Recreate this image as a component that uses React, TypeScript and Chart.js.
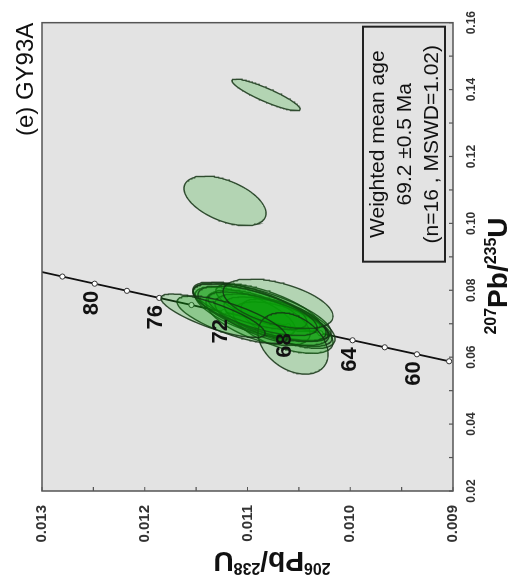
import React, { useEffect, useRef } from 'react';
import { Chart, registerables } from 'chart.js';

Chart.register(...registerables);

// decay constants (per year)
const LAMBDA238 = 1.55125e-10;
const LAMBDA235 = 9.8485e-10;

// concordia ages (Ma)
const curveAges = [57.9, 58, 60, 62, 64, 66, 68, 70, 72, 74, 76, 78, 80, 82, 84];
const markerAges = [58, 60, 62, 64, 66, 68, 70, 72, 74, 76, 78, 80, 82];
const labelAges = [60, 64, 68, 72, 76, 80];

// axis ranges
const xMin = 0.02;
const xMax = 0.16;
const xStep = 0.01;
const yMin = 0.009;
const yMax = 0.013;
const yStep = 0.0005;

// error ellipses: centre 207Pb/235U, centre 206Pb/238U, half-extent in each, correlation
const ellPb207U235 = [0.13839, 0.10672, 0.07239, 0.07121, 0.0641, 0.07594, 0.07417, 0.07298, 0.0721, 0.07535, 0.07121, 0.07358, 0.07062, 0.0718, 0.07002, 0.07476, 0.06884, 0.07358];
const ellPb206U238 = [0.01082, 0.011219, 0.011336, 0.011151, 0.010557, 0.010703, 0.010927, 0.010859, 0.010801, 0.010976, 0.010762, 0.010859, 0.010703, 0.010898, 0.010606, 0.010801, 0.010655, 0.011024];
const ellErr207 = [0.00474, 0.0074, 0.00651, 0.0071, 0.00918, 0.0074, 0.0077, 0.0083, 0.0074, 0.0071, 0.0077, 0.0086, 0.0074, 0.0083, 0.0074, 0.0071, 0.0077, 0.0074];
const ellErr206 = [0.000331, 0.000399, 0.000506, 0.000535, 0.000341, 0.000535, 0.000604, 0.000623, 0.000584, 0.000555, 0.000555, 0.000672, 0.000526, 0.000507, 0.000458, 0.000507, 0.000487, 0.000487];
const ellRho = [0.89, 0.5, 0.8, 0.75, 0.35, 0.5, 0.7, 0.68, 0.72, 0.68, 0.62, 0.7, 0.66, 0.58, 0.62, 0.72, 0.58, 0.68];

// texts
const sampleTitle = '(e) GY93A';
const boxLines = ['Weighted mean age', '69.2 \u00B10.5 Ma', '(n=16 , MSWD=1.02)'];

const FONT = '"Liberation Sans", Arial, Helvetica, sans-serif';

const r206 = (a: number) => Math.exp(LAMBDA238 * a * 1e6) - 1;
const r207 = (a: number) => Math.exp(LAMBDA235 * a * 1e6) - 1;

function ellipsePts(cx: number, cy: number, sx: number, sy: number, rho: number) {
  const pts: { x: number; y: number }[] = [];
  const k = Math.sqrt(1 - rho * rho);
  const n = 120;
  for (let i = 0; i <= n; i++) {
    const t = (i / n) * 2 * Math.PI;
    pts.push({ x: cx + sx * Math.cos(t), y: cy + sy * (rho * Math.cos(t) + k * Math.sin(t)) });
  }
  return pts;
}

type Part = { t: string; sup?: boolean };
function drawSupText(ctx: CanvasRenderingContext2D, parts: Part[], cx: number, baseY: number, big: string, small: string, rise: number) {
  let total = 0;
  const widths = parts.map((p) => {
    ctx.font = p.sup ? small : big;
    const w = ctx.measureText(p.t).width;
    total += w;
    return w;
  });
  let x = cx - total / 2;
  ctx.textAlign = 'left';
  ctx.textBaseline = 'alphabetic';
  parts.forEach((p, i) => {
    ctx.font = p.sup ? small : big;
    ctx.fillText(p.t, x, p.sup ? baseY - rise : baseY);
    x += widths[i];
  });
}

const decoPlugin = {
  id: 'deco',
  beforeDraw(chart: any) {
    const { ctx, chartArea: ca } = chart;
    ctx.save();
    ctx.fillStyle = '#fff';
    ctx.fillRect(0, 0, chart.width, chart.height);
    ctx.fillStyle = '#e3e3e3';
    ctx.fillRect(ca.left, ca.top, ca.right - ca.left, ca.bottom - ca.top);
    ctx.restore();
  },
  afterDraw(chart: any) {
    const { ctx, chartArea: ca } = chart;
    const xs = chart.scales.x;
    const ys = chart.scales.y;
    ctx.save();
    // frame
    ctx.strokeStyle = '#555';
    ctx.lineWidth = 1.5;
    ctx.strokeRect(ca.left, ca.top, ca.right - ca.left, ca.bottom - ca.top);
    // inner ticks
    ctx.lineWidth = 1.2;
    ctx.beginPath();
    xs.ticks.forEach((t: any) => {
      const p = xs.getPixelForValue(t.value);
      ctx.moveTo(p, ca.bottom);
      ctx.lineTo(p, ca.bottom - 4);
    });
    ys.ticks.forEach((t: any) => {
      const p = ys.getPixelForValue(t.value);
      ctx.moveTo(ca.left, p);
      ctx.lineTo(ca.left + 4, p);
    });
    ctx.stroke();

    // age labels
    ctx.fillStyle = '#111';
    ctx.font = `bold 22px ${FONT}`;
    ctx.textAlign = 'right';
    ctx.textBaseline = 'middle';
    labelAges.forEach((a) => {
      const px = xs.getPixelForValue(r207(a));
      const py = ys.getPixelForValue(r206(a));
      ctx.fillText(String(a), px - 7, py - 3);
    });

    // sample title
    ctx.font = `24px ${FONT}`;
    ctx.textAlign = 'right';
    ctx.textBaseline = 'middle';
    ctx.fillText(sampleTitle, ca.right, 26);

    // box
    const bw = 235;
    const bh = 82;
    const bx = ca.right - 4 - bw;
    const by = ca.bottom - 8 - bh;
    ctx.strokeStyle = '#222';
    ctx.lineWidth = 2;
    ctx.strokeRect(bx, by, bw, bh);
    ctx.font = `21px ${FONT}`;
    ctx.textAlign = 'center';
    ctx.textBaseline = 'middle';
    boxLines.forEach((s, i) => {
      ctx.fillText(s, bx + bw / 2, by + 15 + i * 27);
    });

    // axis titles
    const big = `bold 28px ${FONT}`;
    const small = `bold 16px ${FONT}`;
    ctx.fillStyle = '#111';
    drawSupText(ctx, [{ t: '207', sup: true }, { t: 'Pb' }, { t: '/' }, { t: '235', sup: true }, { t: 'U' }], 310, 507, big, small, 11);
    ctx.save();
    ctx.translate(24, 272);
    ctx.rotate(-Math.PI / 2);
    drawSupText(ctx, [{ t: '206', sup: true }, { t: 'Pb' }, { t: '/' }, { t: '238', sup: true }, { t: 'U' }], 0, 10, big, small, 11);
    ctx.restore();
    ctx.restore();
  },
};

export default function App() {
  const ref = useRef<HTMLCanvasElement | null>(null);
  useEffect(() => {
    if (!ref.current) return;
    const ellipseSets = ellPb207U235.map((cx, i) => ({
      type: 'line' as const,
      data: ellipsePts(cx, ellPb206U238[i], ellErr207[i], ellErr206[i], ellRho[i]),
      borderColor: 'rgba(20,50,20,0.85)',
      borderWidth: 1.4,
      backgroundColor: 'rgba(10,160,10,0.22)',
      fill: 'shape',
      pointRadius: 0,
      tension: 0,
    }));
    const chart = new Chart(ref.current, {
      type: 'line',
      data: {
        datasets: [
          ...ellipseSets,
          {
            data: markerAges.map((a) => ({ x: r207(a), y: r206(a) })),
            showLine: false,
            pointRadius: 2.6,
            pointBackgroundColor: '#fff',
            pointBorderColor: '#333',
            pointBorderWidth: 1,
          },
          {
            data: curveAges.map((a) => ({ x: r207(a), y: r206(a) })),
            borderColor: '#111',
            borderWidth: 1.8,
            pointRadius: 0,
            fill: false,
            tension: 0,
          },
        ] as any,
      },
      options: {
        animation: false,
        responsive: false,
        devicePixelRatio: 1,
        events: [],
        layout: { padding: { left: 0, right: 18, top: 42, bottom: 0 } },
        plugins: { legend: { display: false }, tooltip: { enabled: false } },
        scales: {
          x: {
            type: 'linear',
            min: xMin,
            max: xMax,
            grid: { display: false, drawTicks: false },
            border: { display: false },
            afterFit: (s: any) => {
              s.height = 62;
            },
            ticks: {
              stepSize: xStep,
              autoSkip: false,
              maxRotation: 0,
              padding: 11,
              color: '#333',
              font: { family: FONT, size: 12, weight: 'bold' },
              callback: (v: any) => (Math.round(Number(v) * 100) % 2 === 0 ? Number(v).toFixed(2) : ''),
            },
          },
          y: {
            type: 'linear',
            min: yMin,
            max: yMax,
            grid: { display: false, drawTicks: false },
            border: { display: false },
            afterFit: (s: any) => {
              s.width = 95;
            },
            ticks: {
              stepSize: yStep,
              autoSkip: false,
              padding: 14,
              color: '#333',
              font: { family: FONT, size: 15, weight: 'bold' },
              callback: (v: any) => (Math.round(Number(v) * 2000) % 2 === 0 ? Number(v).toFixed(3) : ''),
            },
          },
        },
      } as any,
      plugins: [decoPlugin],
    });
    return () => chart.destroy();
  }, []);

  return (
    <div style={{ position: 'absolute', left: 0, top: 0, width: 515, height: 586, overflow: 'hidden', background: '#fff' }}>
      <div
        style={{
          position: 'absolute',
          left: 0,
          top: 0,
          width: 586,
          height: 515,
          transformOrigin: '0 0',
          transform: 'translate(0px, 586px) rotate(-90deg)',
        }}
      >
        <canvas ref={ref} width={586} height={515} style={{ display: 'block', width: 586, height: 515 }} />
      </div>
    </div>
  );
}
